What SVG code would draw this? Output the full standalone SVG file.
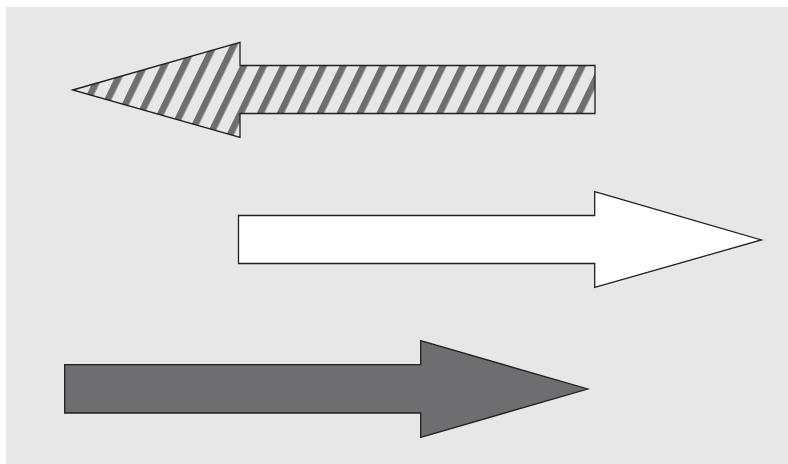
<svg xmlns="http://www.w3.org/2000/svg" width="788" height="464" viewBox="0 0 788 464">
  <style>
    .arrow { stroke: #231f20; stroke-width: 1.3; stroke-linejoin: miter; }
    .hatched { fill: url(#hatch); }
    .white { fill: #ffffff; }
    .dark { fill: #6d6e71; }
  </style>
  <defs>
    <pattern id="hatch" patternUnits="userSpaceOnUse" width="17.9" height="40" patternTransform="translate(240 66) rotate(26)">
      <rect x="0" y="0" width="17.9" height="40" fill="#e6e7e8"/>
      <rect x="0" y="0" width="6.6" height="40" fill="#6d6e71"/>
    </pattern>
  </defs>
  <rect x="6" y="7" width="782" height="457" fill="#e6e7e8"/>
  <g id="arrow-left-hatched">
    <polygon class="arrow hatched" points="72.7,90 240,42.3 240,65.5 595,65.5 595,113.5 240,113.5 240,137.5"/>
  </g>
  <g id="arrow-right-white">
    <polygon class="arrow white" points="238.5,215.5 594.7,215.5 594.7,191.7 761.3,240 594.7,287.3 594.7,263.5 238.5,263.5"/>
  </g>
  <g id="arrow-right-dark">
    <polygon class="arrow dark" points="64.7,364.7 420.7,364.7 420.7,340.7 587.7,389 420.7,437.3 420.7,413 64.7,413"/>
  </g>
  <g id="connectors"/>
</svg>
